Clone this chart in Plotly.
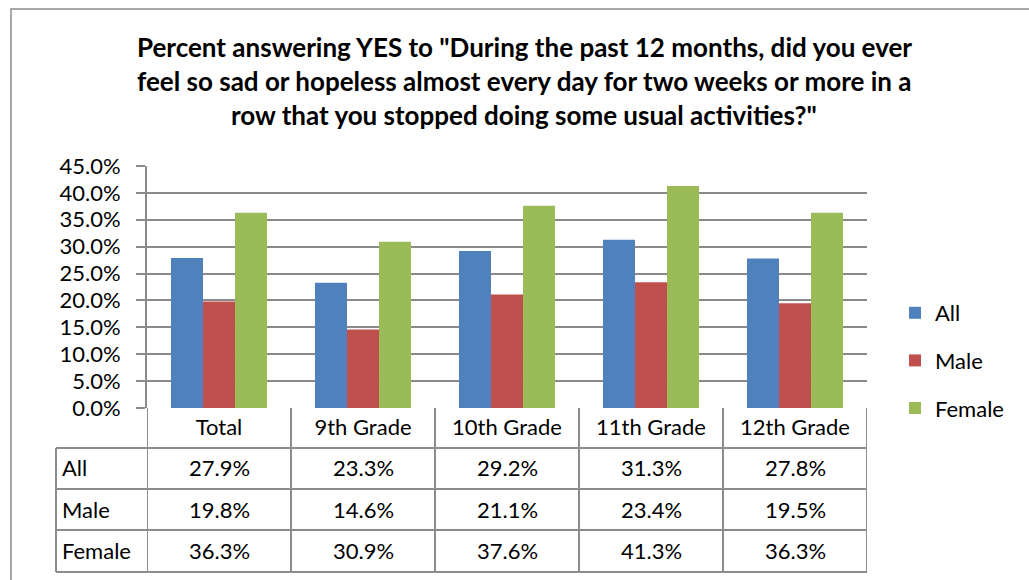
import plotly.graph_objects as go

# ---------------- data ----------------
title_lines = [
    'Percent answering YES to "During the past 12 months, did you ever',
    'feel so sad or hopeless almost every day for two weeks or more in a',
    'row that you stopped doing some usual activities?"',
]
categories = ["Total", "9th Grade", "10th Grade", "11th Grade", "12th Grade"]
series_names = ["All", "Male", "Female"]
all_vals = [27.9, 23.3, 29.2, 31.3, 27.8]
male_vals = [19.8, 14.6, 21.1, 23.4, 19.5]
female_vals = [36.3, 30.9, 37.6, 41.3, 36.3]
colors = ["#4F81BD", "#C0504D", "#9BBB59"]
y_ticks = [0, 5, 10, 15, 20, 25, 30, 35, 40, 45]

# ---------------- layout helpers ----------------
W, H = 1029, 580
def px(x):
    return x / W
def py(y):
    return 1 - y / H

FONT = "Lato, Calibri, Carlito, sans-serif"
GRID = "#8a8a8a"
LINE = "#8c8c8c"

series_vals = [all_vals, male_vals, female_vals]

fig = go.Figure()
for i, (name, vals) in enumerate(zip(series_names, series_vals)):
    fig.add_trace(go.Bar(
        x=categories, y=vals, name=name,
        marker=dict(color=colors[i], line=dict(width=0)),
        legendgroup=name,
    ))

ann = []
for k, line in enumerate(title_lines):
    ann.append(dict(text="<b>" + line + "</b>", xref="paper", yref="paper",
                    x=px(524), y=py(46.5 + k * 34.5), xanchor="center", yanchor="middle",
                    showarrow=False, font=dict(family=FONT, size=26, color="#000")))

row_centers = [468, 509, 550]
for r, (name, vals) in enumerate(zip(series_names, series_vals)):
    ann.append(dict(text=name, xref="paper", yref="paper", x=px(60), y=py(row_centers[r]),
                    xanchor="left", yanchor="middle", showarrow=False,
                    font=dict(family=FONT, size=22, color="#000")))
    for c, v in zip(categories, vals):
        ann.append(dict(text=f"{v:.1f}%", xref="x", yref="paper", x=c, y=py(row_centers[r]),
                        xanchor="center", yanchor="middle", showarrow=False,
                        font=dict(family=FONT, size=22, color="#000")))

shapes = []
line_style = dict(color=LINE, width=2)
# horizontal table lines
for yy in [448, 489, 530, 572]:
    shapes.append(dict(type="line", xref="paper", yref="paper", x0=px(56), x1=px(867),
                       y0=py(yy), y1=py(yy), line=line_style))
# left label column border
shapes.append(dict(type="line", xref="paper", yref="paper", x0=px(56), x1=px(56),
                   y0=py(448), y1=py(572), line=line_style))
# vertical lines at category boundaries
n = len(categories)
for b in range(n + 1):
    shapes.append(dict(type="line", xref="x", yref="paper", x0=b - 0.5, x1=b - 0.5,
                       y0=py(408), y1=py(572), line=line_style))
# outer chart border
shapes.append(dict(type="rect", xref="paper", yref="paper", x0=px(11), x1=px(1040),
                   y0=py(9), y1=py(600), line=dict(color="#8c8c8c", width=1.5),
                   fillcolor="rgba(0,0,0,0)"))

fig.update_layout(
    width=W, height=H,
    margin=dict(l=0, r=0, t=0, b=0, pad=0, autoexpand=False),
    paper_bgcolor="white", plot_bgcolor="white",
    barmode="group", bargap=0.333, bargroupgap=0,
    font=dict(family=FONT, size=22, color="#000"),
    xaxis=dict(domain=[px(147), px(867)], range=[-0.5, n - 0.5], type="category",
               showgrid=False, ticks="", showline=False, zeroline=False, automargin=False,
               tickfont=dict(family=FONT, size=22, color="#000"), ticklabelstandoff=4),
    yaxis=dict(domain=[py(408), py(166)], range=[0, 45], tickvals=y_ticks,
               ticktext=[f"{t:.1f}%" for t in y_ticks], automargin=False,
               showgrid=True, gridcolor=GRID, gridwidth=2, zeroline=False,
               showline=True, linecolor=LINE, linewidth=2,
               ticks="outside", ticklen=9, tickcolor=LINE, tickwidth=2,
               tickfont=dict(family=FONT, size=22, color="#000"), ticklabelstandoff=11),
    legend=dict(x=px(895), y=py(292), xanchor="left", yanchor="top",
                font=dict(family=FONT, size=22, color="#000"),
                tracegroupgap=16, itemwidth=30, bgcolor="rgba(0,0,0,0)"),
    annotations=ann, shapes=shapes,
    showlegend=True,
)

fig.write_html("out.html", config={"displayModeBar": False},
               post_script="document.body.style.margin='0';")
